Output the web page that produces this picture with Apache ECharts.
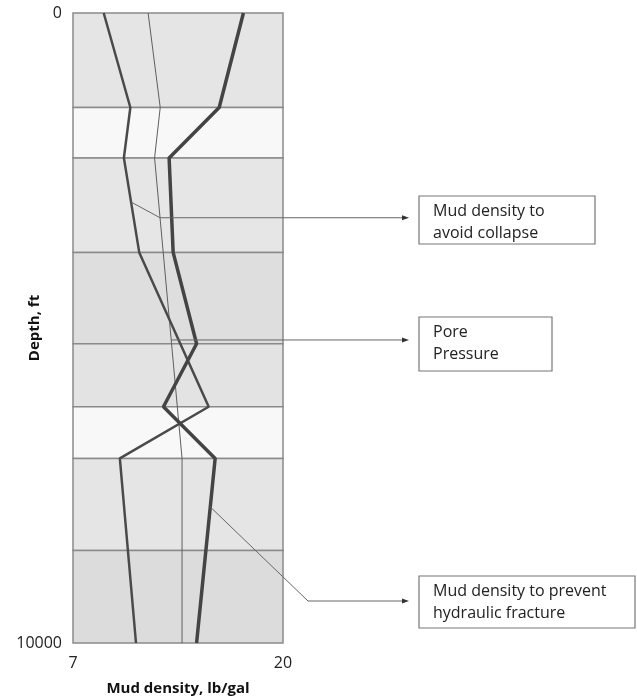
<!DOCTYPE html>
<html>
<head>
<meta charset="utf-8">
<script src="https://cdn.jsdelivr.net/npm/echarts@6/dist/echarts.min.js"></script>
<style>
  html, body { margin: 0; padding: 0; background: #fff; }
  #chart { width: 637px; height: 700px; }
</style>
</head>
<body>
<div id="chart"></div>
<script>
// depth bands (ft)
const bandEdges = [0, 1500, 2300, 3800, 5250, 6250, 7070, 8530, 10000];
const bandShades = ['#e5e5e5', '#f8f8f8', '#e6e6e6', '#dedede', '#e3e3e3', '#f8f8f8', '#e5e5e5', '#dcdcdc'];

// mud density to prevent hydraulic fracture
const fractureDepth = [0, 1500, 2300, 3800, 5250, 6250, 7070, 10000];
const fractureMud = [17.55, 16.05, 12.95, 13.2, 14.65, 12.6, 15.8, 14.65];
// mud density to avoid collapse
const collapseDepth = [0, 1500, 2300, 3800, 6250, 7070, 10000];
const collapseMud = [8.9, 10.55, 10.15, 11.1, 15.4, 9.9, 10.9];
// pore pressure
const poreDepth = [0, 1500, 2300, 7070, 10000];
const poreMud = [11.65, 12.4, 12.05, 13.75, 13.75];

const xTicks = [7, 20];
const yTicks = [0, 10000];

const FONT = '"Open Sans"';

function pairs(xs, ys) {
    return xs.map(function (x, i) { return [x, ys[i]]; });
}
// value of a line at a given depth
function interp(depths, vals, d) {
    for (let i = 1; i < depths.length; i++) {
        if (d <= depths[i]) {
            const t = (d - depths[i - 1]) / (depths[i] - depths[i - 1]);
            return vals[i - 1] + t * (vals[i] - vals[i - 1]);
        }
    }
    return vals[vals.length - 1];
}

const bands = [];
for (let i = 0; i < bandShades.length; i++) {
    bands.push([
        {yAxis: bandEdges[i], itemStyle: {color: bandShades[i]}},
        {yAxis: bandEdges[i + 1]}
    ]);
}

const chart = echarts.init(document.getElementById('chart'));

chart.setOption({
    animation: false,
    backgroundColor: '#fff',
    grid: {left: 73, top: 13, width: 210, height: 630, outerBoundsMode: 'none', containLabel: false},
    xAxis: {
        type: 'value',
        min: 7, max: 20, interval: 1,
        name: 'Mud density, lb/gal',
        nameLocation: 'middle',
        nameGap: 38,
        nameMoveOverlap: false,
        nameTextStyle: {fontFamily: FONT, fontWeight: 'bold', fontSize: 15, color: '#111'},
        axisLine: {show: false},
        axisTick: {show: false},
        splitLine: {show: false},
        axisLabel: {
            margin: 12, fontFamily: FONT, fontSize: 16, color: '#222',
            formatter: function (v) { return xTicks.indexOf(v) >= 0 ? String(v) : ''; }
        }
    },
    yAxis: {
        type: 'value',
        inverse: true,
        min: 0, max: 10000, interval: 10000,
        name: 'Depth, ft',
        nameLocation: 'middle',
        nameGap: 31,
        nameMoveOverlap: false,
        nameTextStyle: {fontFamily: FONT, fontWeight: 'bold', fontSize: 15, color: '#111'},
        axisLine: {show: false},
        axisTick: {show: false},
        splitLine: {show: false},
        axisLabel: {
            margin: 11, fontFamily: FONT, fontSize: 16, color: '#222',
            formatter: function (v) { return yTicks.indexOf(v) >= 0 ? String(v) : ''; }
        }
    },
    series: [
        {
            type: 'line', data: [], silent: true,
            markArea: {
                silent: true,
                itemStyle: {borderColor: '#8a8a8a', borderWidth: 1.5},
                data: bands
            }
        },
        {
            name: 'Pore pressure', type: 'line', showSymbol: false, silent: true,
            data: pairs(poreMud, poreDepth),
            lineStyle: {color: '#5e5e5e', width: 1}, z: 3
        },
        {
            name: 'Collapse', type: 'line', showSymbol: false, silent: true,
            data: pairs(collapseMud, collapseDepth),
            lineStyle: {color: '#4a4a4a', width: 2.5}, z: 4
        },
        {
            name: 'Hydraulic fracture', type: 'line', showSymbol: false, silent: true,
            data: pairs(fractureMud, fractureDepth),
            lineStyle: {color: '#444', width: 3.5}, z: 5
        }
    ]
});

// annotation boxes with pointer lines
function px(x, d) {
    return chart.convertToPixel({gridIndex: 0}, [x, d]);
}
const tipX = 409;
const lineStyle = {stroke: '#666', lineWidth: 1, fill: null};
function arrow(y) {
    return {
        type: 'polygon', z: 100,
        shape: {points: [[tipX, y], [tipX - 7, y - 2.5], [tipX - 7, y + 2.5]]},
        style: {fill: '#333'}
    };
}
function box(x, y, w, h, lines) {
    const els = [{
        type: 'rect', z: 100,
        shape: {x: x, y: y, width: w, height: h},
        style: {fill: '#fff', stroke: '#777', lineWidth: 1.2}
    }];
    lines.forEach(function (t, i) {
        els.push({
            type: 'text', z: 101, x: x + 14, y: y + 15 + i * 22,
            style: {text: t, fontFamily: FONT, fontSize: 16, fill: '#222', verticalAlign: 'middle'}
        });
    });
    return els;
}

const a1 = px(interp(collapseDepth, collapseMud, 3000), 3000);
const a1b = px(interp(poreDepth, poreMud, 3250), 3250);
const a2 = px(interp(poreDepth, poreMud, 5190), 5190);
const a3 = px(interp(fractureDepth, fractureMud, 7840), 7840);

let graphic = [
    {type: 'polyline', z: 99, shape: {points: [a1, a1b, [tipX - 6, a1b[1]]]}, style: lineStyle},
    arrow(a1b[1]),
    {type: 'polyline', z: 99, shape: {points: [a2, [tipX - 6, a2[1]]]}, style: lineStyle},
    arrow(a2[1]),
    {type: 'polyline', z: 99, shape: {points: [a3, [308, 601], [tipX - 6, 601]]}, style: lineStyle},
    arrow(601)
];
graphic = graphic
    .concat(box(419, 196, 176, 48, ['Mud density to', 'avoid collapse']))
    .concat(box(419, 317, 133, 54, ['Pore', 'Pressure']))
    .concat(box(419, 576, 216, 52, ['Mud density to prevent', 'hydraulic fracture']));

chart.setOption({graphic: graphic});
</script>
</body>
</html>
